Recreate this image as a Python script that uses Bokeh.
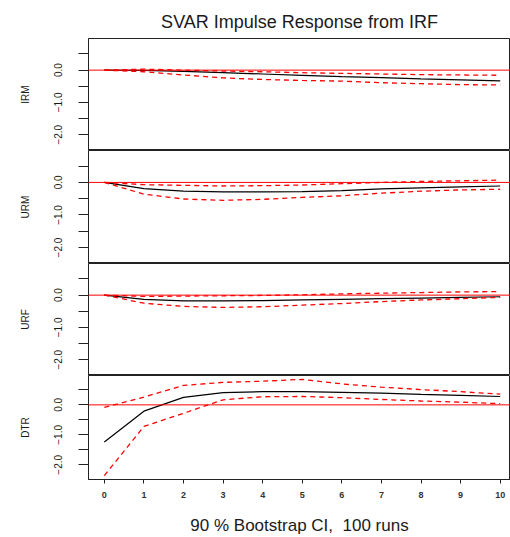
from bokeh.plotting import figure
from bokeh.layouts import column
from bokeh.models import Range1d, FixedTicker, Span
from bokeh.embed import file_html
from bokeh.resources import INLINE

# ---- data ----
steps = [0, 1, 2, 3, 4, 5, 6, 7, 8, 9, 10]
panel_names = ["IRM", "URM", "URF", "DTR"]

irm_resp = [0.0, -0.01, -0.04, -0.08, -0.12, -0.16, -0.20, -0.23, -0.27, -0.30, -0.33]
irm_upper = [0.0, 0.03, 0.0, -0.03, -0.05, -0.08, -0.10, -0.12, -0.14, -0.15, -0.16]
irm_lower = [0.0, -0.05, -0.15, -0.24, -0.29, -0.32, -0.34, -0.39, -0.42, -0.45, -0.46]

urm_resp = [0.0, -0.19, -0.27, -0.29, -0.29, -0.28, -0.25, -0.20, -0.17, -0.14, -0.11]
urm_upper = [0.0, -0.07, -0.09, -0.11, -0.10, -0.08, -0.04, 0.0, 0.03, 0.05, 0.07]
urm_lower = [0.0, -0.36, -0.51, -0.55, -0.52, -0.46, -0.41, -0.33, -0.27, -0.23, -0.21]

urf_resp = [0.0, -0.13, -0.18, -0.18, -0.17, -0.15, -0.13, -0.11, -0.09, -0.07, -0.05]
urf_upper = [0.0, -0.04, -0.03, -0.02, -0.01, 0.01, 0.04, 0.06, 0.08, 0.10, 0.11]
urf_lower = [0.0, -0.25, -0.35, -0.38, -0.36, -0.31, -0.26, -0.20, -0.15, -0.11, -0.07]

dtr_resp = [-1.24, -0.21, 0.25, 0.41, 0.44, 0.44, 0.42, 0.39, 0.35, 0.32, 0.28]
dtr_upper = [-0.08, 0.26, 0.65, 0.75, 0.79, 0.85, 0.70, 0.59, 0.51, 0.44, 0.36]
dtr_lower = [-2.36, -0.72, -0.28, 0.17, 0.27, 0.28, 0.24, 0.18, 0.13, 0.09, 0.04]

y_ticks = [-2.0, -1.5, -1.0, -0.5, 0.0, 0.5]
y_tick_labels = {-2.0: "\u22122.0", -1.5: "", -1.0: "\u22121.0", -0.5: "", 0.0: "0.0", 0.5: ""}
x_ticks = steps

title_text = "SVAR Impulse Response from IRF"
bottom_text = "90 % Bootstrap CI, \u00a0100 runs"

FONT = "Liberation Sans"

xr = Range1d(-0.4, 10.26)

series = [
    (irm_resp, irm_upper, irm_lower),
    (urm_resp, urm_upper, urm_lower),
    (urf_resp, urf_upper, urf_lower),
    (dtr_resp, dtr_upper, dtr_lower),
]
heights = [150, 113, 112, 162]

figs = []
for i, (name, (resp, up, lo), h) in enumerate(zip(panel_names, series, heights)):
    first = i == 0
    last = i == len(panel_names) - 1
    kw = dict(
        width=510, height=h, x_range=xr, y_range=Range1d(-2.49, 0.98),
        output_backend="svg", toolbar_location=None,
        min_border_left=88, min_border_right=0,
        min_border_top=38 if first else 0,
        min_border_bottom=50 if last else 0,
        x_axis_location="below" if last else None,
    )
    if first:
        kw["title"] = title_text
    p = figure(**kw)
    p.grid.visible = False
    p.outline_line_color = "#222222"
    p.outline_line_width = 1
    p.background_fill_color = "white"
    p.border_fill_color = "white"

    if first:
        p.title.align = "center"
        p.title.vertical_align = "top"
        p.title.text_font = FONT
        p.title.text_font_size = "18px"
        p.title.text_font_style = "normal"
        p.title.text_color = "#1a1a1a"
        p.title.standoff = 10

    yax = p.yaxis[0]
    yax.ticker = FixedTicker(ticks=y_ticks)
    yax.major_label_overrides = y_tick_labels
    yax.major_label_orientation = "vertical"
    yax.major_label_text_font = FONT
    yax.major_label_text_font_size = "10px"
    yax.major_label_text_color = "#1a1a1a"
    yax.major_tick_out = 10
    yax.major_tick_in = 0
    yax.minor_tick_line_color = None
    yax.axis_line_color = "#222222"
    yax.major_tick_line_color = "#222222"
    yax.major_label_standoff = 16
    yax.axis_label = name
    yax.axis_label_text_font = FONT
    yax.axis_label_text_font_size = "10px"
    yax.axis_label_text_font_style = "normal"
    yax.axis_label_text_color = "#1a1a1a"
    yax.axis_label_standoff = 21

    if last:
        xax = p.xaxis[0]
        xax.ticker = FixedTicker(ticks=x_ticks)
        xax.major_label_text_font = FONT
        xax.major_label_text_font_size = "9px"
        xax.major_label_text_font_style = "bold"
        xax.major_label_text_color = "#333333"
        xax.major_tick_out = 4
        xax.major_tick_in = 0
        xax.minor_tick_line_color = None
        xax.axis_line_color = "#222222"
        xax.major_tick_line_color = "#222222"
        xax.major_label_standoff = 8
        xax.axis_label = bottom_text
        xax.axis_label_text_font = FONT
        xax.axis_label_text_font_size = "17px"
        xax.axis_label_text_font_style = "normal"
        xax.axis_label_text_color = "#1a1a1a"
        xax.axis_label_standoff = 15

    p.add_layout(Span(location=0, dimension="width", line_color="red", line_width=1))
    p.line(steps, resp, line_color="black", line_width=1.2)
    p.line(steps, up, line_color="red", line_width=1.3, line_dash="5 4")
    p.line(steps, lo, line_color="red", line_width=1.3, line_dash="5 4")
    figs.append(p)

layout = column(*figs, spacing=0)
open("out.html", "w").write(file_html(layout, INLINE))
